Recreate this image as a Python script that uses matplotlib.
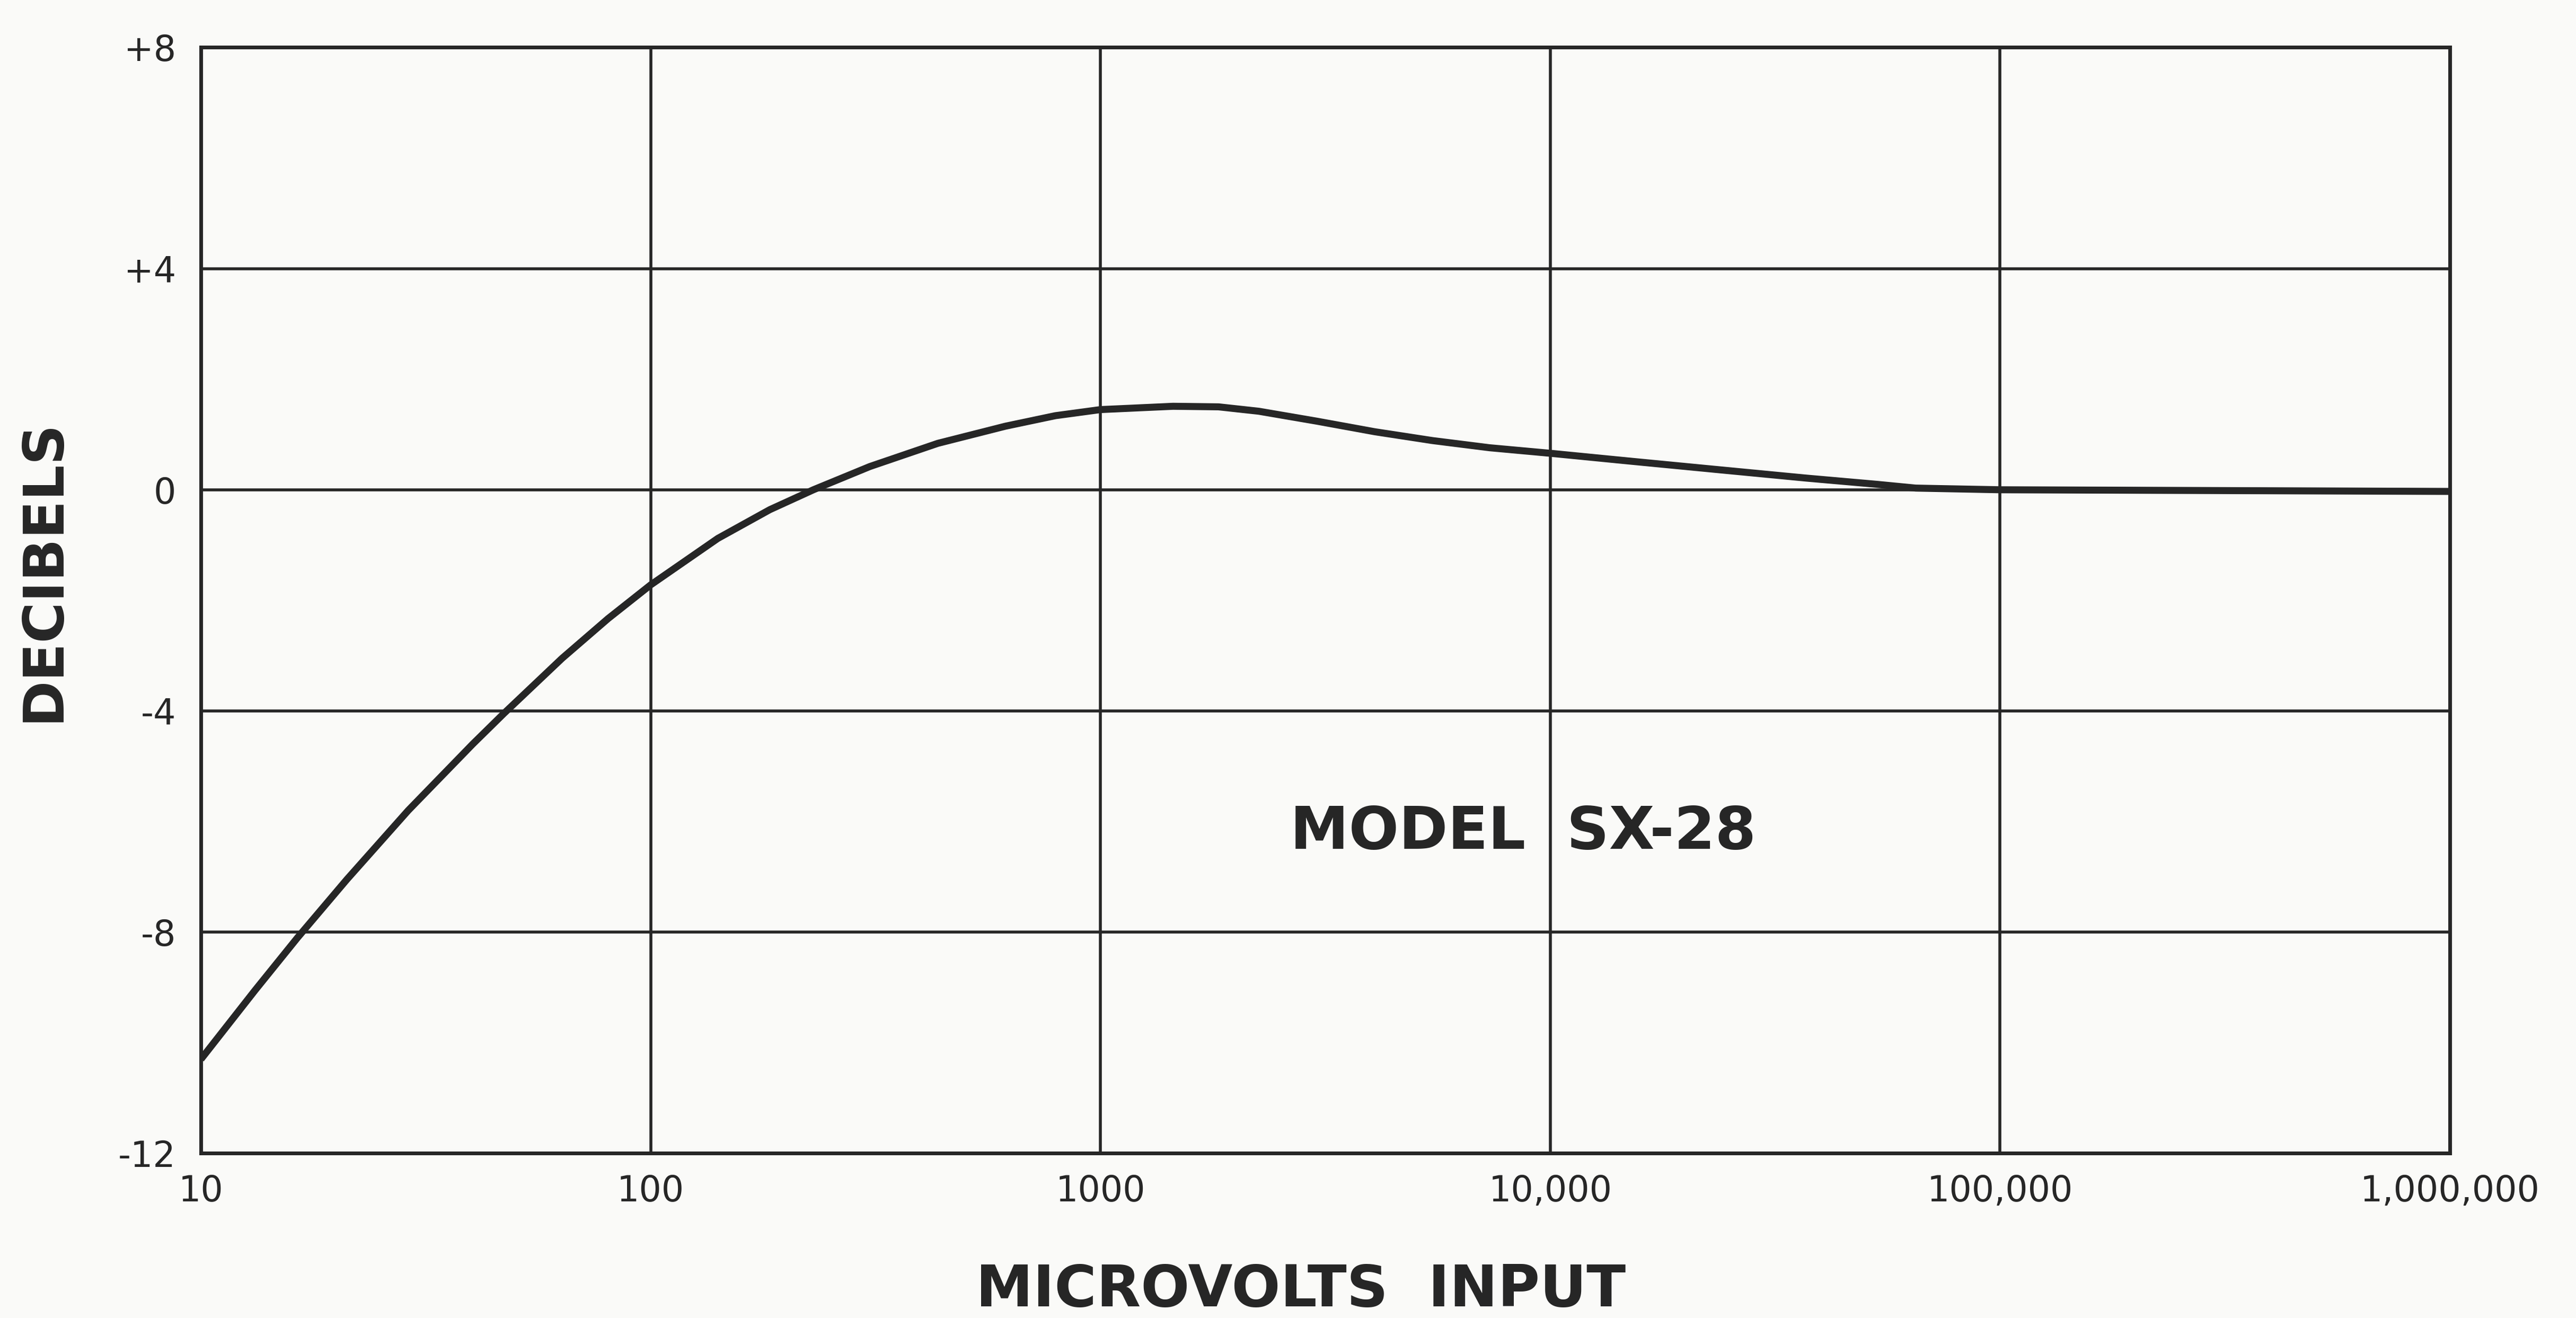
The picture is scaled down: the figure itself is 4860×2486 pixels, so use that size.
import matplotlib
matplotlib.use('Agg')
import matplotlib.pyplot as plt

# Values
microvolts = [10, 13.2, 16.4, 21.1, 28.9, 40.2, 47.1, 63.5, 80.4, 100,
              141, 184, 230, 307, 435, 615, 794, 1000, 1450, 1830,
              2250, 3030, 4070, 5470, 7330, 10000, 15400, 23900, 37200,
              53000, 65000, 100000, 1000000]
decibels = [-10.3, -9.05, -8.1, -7.05, -5.8, -4.6, -4.05, -3.05, -2.33, -1.72,
            -0.88, -0.36, 0.0, 0.42, 0.84, 1.15, 1.34, 1.45, 1.51, 1.50,
            1.42, 1.24, 1.05, 0.89, 0.76, 0.66, 0.51, 0.36, 0.21,
            0.10, 0.03, 0.0, -0.03]

x_ticks = [10, 100, 1000, 10000, 100000, 1000000]
x_tick_labels = ['10', '100', '1000', '10,000', '100,000', '1,000,000']
y_ticks = [8, 4, 0, -4, -8, -12]
y_tick_labels = ['+8', '+4', '0', '-4', '-8', '-12']

ink = '#262626'
paper = '#fafaf8'

fig = plt.figure(figsize=(48.6, 24.86), dpi=100, facecolor=paper)
ax = fig.add_axes([0.078, 0.125, 0.873, 0.839], facecolor=paper)

ax.plot(microvolts, decibels, color=ink, linewidth=9.5, solid_joinstyle='round',
        solid_capstyle='butt', zorder=3)

ax.set_xscale('log')
ax.set_xlim(10, 1000000)
ax.set_ylim(-12, 8)

ax.set_xticks(x_ticks)
ax.set_xticklabels(x_tick_labels)
ax.set_yticks(y_ticks)
ax.set_yticklabels(y_tick_labels)
ax.minorticks_off()

ax.tick_params(axis='both', length=0, labelsize=48, colors=ink)
ax.tick_params(axis='x', pad=28)
ax.tick_params(axis='y', pad=34)

ax.grid(True, color=ink, linewidth=4)
for s in ax.spines.values():
    s.set_color(ink)
    s.set_linewidth(5)

ax.text(8700, -6.2, 'MODEL  SX-28', fontsize=80, fontweight='bold', color=ink,
        ha='center', va='center')

fig.text(0.017, 0.567, 'DECIBELS', rotation=90, fontsize=76, fontweight='bold',
         color=ink, ha='center', va='center')
fig.text(0.505, 0.021, 'MICROVOLTS  INPUT', fontsize=78, fontweight='bold',
         color=ink, ha='center', va='center')

fig.savefig('out.png', dpi=100, facecolor=paper)
